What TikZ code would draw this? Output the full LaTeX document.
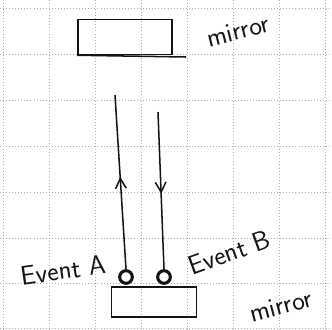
\documentclass[tikz,border=0pt]{standalone}
\usepackage{tikz}
\usetikzlibrary{arrows.meta,decorations.markings}
\definecolor{pen}{RGB}{20,20,24}
\definecolor{gridgray}{RGB}{170,170,175}
\tikzset{
  mirrorbox/.style={draw=pen, rectangle, line width=1.3pt, inner sep=0pt},
  event/.style={draw=pen, fill=white, circle, line width=2.6pt, minimum size=0.38cm, inner sep=0pt},
  hand/.style={text=pen, font=\sffamily\fontsize{23}{26}\selectfont, inner sep=0pt},
  ray/.style={line width=1.3pt, draw=pen},
  upmark/.style={postaction={decorate, decoration={markings,
    mark=at position #1 with {\arrow{Straight Barb[length=3mm, width=3.2mm, line width=1.3pt]}}}}},
  paper/.style={gridgray, dotted, line width=0.6pt},
}
\begin{document}
\begin{tikzpicture}[x=0.03cm, y=-0.03cm]
  \useasboundingbox (0,0) rectangle (332,329);
  % squared paper
  \foreach \gx in {3,49,95,141,187,233,279,325} \draw[paper] (\gx,0) -- (\gx,329);
  \foreach \gy in {8,54,100,146,192,238,283,328} \draw[paper] (0,\gy) -- (332,\gy);
  % mirrors
  \node[mirrorbox, minimum width=2.82cm, minimum height=1.05cm] (topmirror) at (125,37) {};
  \coordinate (topedge) at (186,57);
  \draw[ray] (topmirror.south west) -- (topedge);
  \node[hand, rotate=14] (toplabel) at (238,31) {mirror};
  \node[mirrorbox, minimum width=2.55cm, minimum height=0.9cm] (botmirror) at (154,302) {};
  \node[hand, rotate=15] (botlabel) at (281,306) {mirror};
  % events on the lower mirror
  \node[event] (evA) at (126,277) {};
  \node[event] (evB) at (164,277) {};
  \node[hand, rotate=8] (labA) at (63,270) {Event A};
  \node[hand, rotate=20, anchor=south west] (labB) at (192,276) {Event B};
  % light path
  \coordinate (topA) at (115,95);
  \coordinate (topB) at (158,112);
  \draw[ray, upmark=0.53] (evA.north) -- (topA);
  \draw[ray, upmark=0.52] (topB) -- (evB.north);
\end{tikzpicture}
\end{document}
